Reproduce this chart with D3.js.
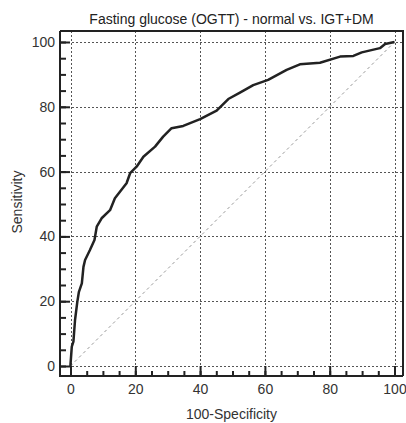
<!DOCTYPE html>
<html>
<head>
<meta charset="utf-8">
<script src="https://cdn.jsdelivr.net/npm/d3@7"></script>
<style>
  body { margin: 0; background: #fff; }
  svg { display: block; font-family: "Liberation Sans", Arial, sans-serif; }
</style>
</head>
<body>
<script>
// ROC curve points: 100-specificity vs sensitivity
var fpr = [0, 0, 0.4, 0.9, 1.4, 2.1, 2.6, 3.5, 4.0, 4.5, 6.0, 7.4, 8.1, 9.6, 12.2, 13.7, 17.3, 18.4, 20.4, 22.5,
           26.1, 28.6, 31.2, 34.8, 40.0, 45.1, 48.7, 52.3, 56.4, 61.0, 66.7, 70.8, 77.0, 83.2, 87.3, 89.9,
           95.5, 97.1, 100];
var tpr = [0, 0.5, 6.0, 7.5, 14.2, 19.8, 22.9, 25.5, 30.6, 32.7, 35.8, 38.9, 43.0, 45.6, 48.1, 51.8, 56.4, 59.5, 61.5, 64.6,
           67.7, 70.8, 73.4, 74.1, 76.2, 78.8, 82.4, 84.4, 86.7, 88.3, 91.4, 93.1, 93.6, 95.5, 95.7, 96.8,
           98.1, 99.4, 100];
var majorTicks = [0, 20, 40, 60, 80, 100];
var minorTicks = d3.range(0, 101, 5);

var width = 406, height = 423;
// frame box and data area
var frame = { left: 60, right: 403, top: 31, bottom: 376 };

var x = d3.scaleLinear().domain([0, 100]).range([70.5, 394.5]);
var y = d3.scaleLinear().domain([0, 100]).range([366, 42]);

var svg = d3.select("body")
    .append("svg")
    .attr("width", width)
    .attr("height", height);

// grid lines
var grid = svg.append("g")
    .attr("stroke", "#555")
    .attr("stroke-width", 1)
    .attr("stroke-dasharray", "2,2");

grid.selectAll(".vgrid")
    .data(majorTicks)
    .enter()
    .append("line")
    .attr("x1", function(d) { return Math.round(x(d)) + 0.5; })
    .attr("x2", function(d) { return Math.round(x(d)) + 0.5; })
    .attr("y1", frame.top)
    .attr("y2", frame.bottom);

grid.selectAll(".hgrid")
    .data(majorTicks)
    .enter()
    .append("line")
    .attr("y1", function(d) { return Math.round(y(d)) + 0.5; })
    .attr("y2", function(d) { return Math.round(y(d)) + 0.5; })
    .attr("x1", frame.left)
    .attr("x2", frame.right);

// diagonal reference line
svg.append("line")
    .attr("x1", x(0))
    .attr("y1", y(0))
    .attr("x2", x(100))
    .attr("y2", y(100))
    .attr("stroke", "#999")
    .attr("stroke-width", 1)
    .attr("stroke-dasharray", "3,3");

// roc curve
var line = d3.line()
    .x(function(d, i) { return x(fpr[i]); })
    .y(function(d, i) { return y(tpr[i]); });

svg.append("path")
    .datum(fpr)
    .attr("d", line)
    .attr("fill", "none")
    .attr("stroke", "#222")
    .attr("stroke-width", 2.5)
    .attr("stroke-linejoin", "round");

// frame top and right
svg.append("path")
    .attr("d", "M" + frame.left + "," + frame.top + "H" + frame.right + "V" + frame.bottom)
    .attr("fill", "none")
    .attr("stroke", "#222")
    .attr("stroke-width", 2);

// axes: ticks point inwards
var yMinor = svg.append("g")
    .attr("transform", "translate(" + frame.left + ",0)")
    .call(d3.axisLeft(y).tickValues(minorTicks).tickSizeInner(-6).tickSizeOuter(0).tickFormat(""));
var yMajor = svg.append("g")
    .attr("transform", "translate(" + frame.left + ",0)")
    .call(d3.axisLeft(y).tickValues(majorTicks).tickSizeInner(-10).tickSizeOuter(0).tickPadding(5));

var xMinor = svg.append("g")
    .attr("transform", "translate(0," + frame.bottom + ")")
    .call(d3.axisBottom(x).tickValues(minorTicks).tickSizeInner(-5).tickSizeOuter(0).tickFormat(""));
var xMajor = svg.append("g")
    .attr("transform", "translate(0," + frame.bottom + ")")
    .call(d3.axisBottom(x).tickValues(majorTicks).tickSizeInner(-10).tickSizeOuter(0).tickPadding(8));

[yMinor, yMajor, xMinor, xMajor].forEach(function(g) {
    g.select(".domain").remove();
    g.selectAll(".tick line").attr("stroke", "#222").attr("stroke-width", 2);
    g.selectAll(".tick text").attr("fill", "#333").style("font-size", "14px")
        .style("font-family", "'Liberation Sans', Arial, sans-serif");
});

// axis lines left and bottom
svg.append("path")
    .attr("d", "M" + frame.left + "," + frame.top + "V" + frame.bottom + "H" + frame.right)
    .attr("fill", "none")
    .attr("stroke", "#222")
    .attr("stroke-width", 2);

// title and labels
svg.append("text")
    .attr("x", (frame.left + frame.right) / 2)
    .attr("y", 24)
    .attr("text-anchor", "middle")
    .attr("fill", "#222")
    .style("font-size", "14px")
    .text("Fasting glucose (OGTT) - normal vs. IGT+DM");

svg.append("text")
    .attr("x", (frame.left + frame.right) / 2)
    .attr("y", 419)
    .attr("text-anchor", "middle")
    .attr("fill", "#333")
    .style("font-size", "14px")
    .text("100-Specificity");

svg.append("text")
    .attr("transform", "translate(22," + (y(50) - 2) + ") rotate(-90)")
    .attr("text-anchor", "middle")
    .attr("fill", "#333")
    .style("font-size", "14px")
    .text("Sensitivity");
</script>
</body>
</html>
